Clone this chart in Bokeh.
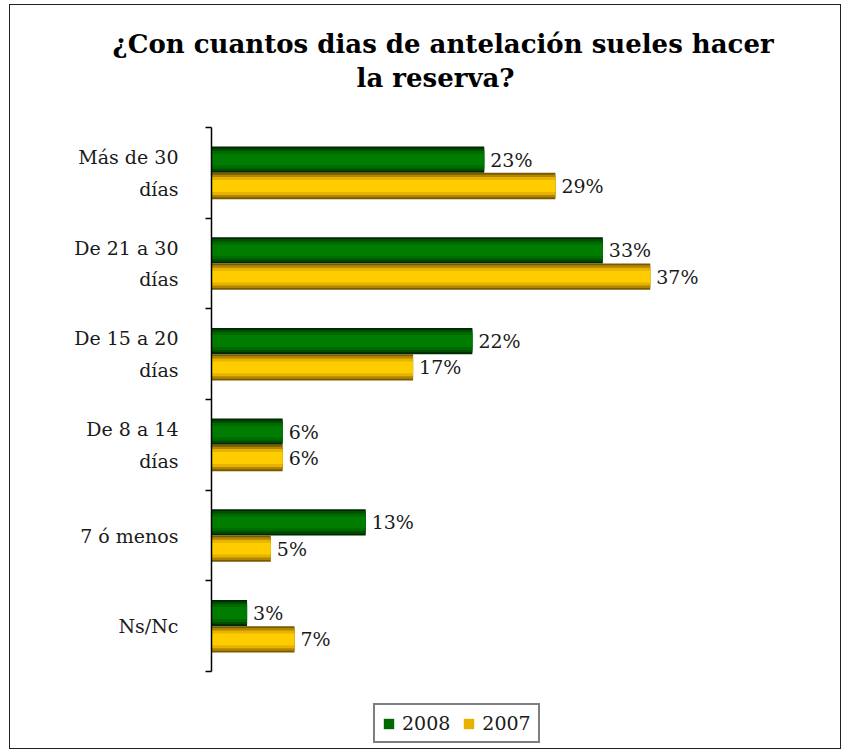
from bokeh.plotting import figure
from bokeh.models import Range1d, FixedTicker, Legend, LegendItem, Title, ColumnDataSource
from bokeh.core.properties import value
from bokeh.embed import file_html
from bokeh.resources import INLINE

categories = ["Más de 30\ndías", "De 21 a 30\ndías", "De 15 a 20\ndías", "De 8 a 14\ndías", "7 ó menos", "Ns/Nc"]
v2008 = [23, 33, 22, 6, 13, 3]
v2007 = [29, 37, 17, 6, 5, 7]
series_names = ["2008", "2007"]
title_lines = ["¿Con cuantos dias de antelación sueles hacer", "la reserva?"]

FONT = "DejaVu Serif"
n = len(categories)
centers = [n - 0.5 - i for i in range(n)]
bar_h = 0.29
y2008 = [c + bar_h / 2 for c in centers]
y2007 = [c - bar_h / 2 for c in centers]

# frame extends below/above the category area to hold the legend and title spacing
p = figure(width=832, height=745, output_backend="svg", toolbar_location=None,
           x_range=Range1d(0, 52.2), y_range=Range1d(-0.827, n + 0.375),
           min_border_left=201, min_border_right=12, min_border_top=88, min_border_bottom=4)
p.styles = {"border": "1.5px solid #222", "margin-left": "9px", "margin-top": "4px"}

src = ColumnDataSource(dict(y8=y2008, y7=y2007, v8=v2008, v7=v2007,
                            t8=[f"{v}%" for v in v2008], t7=[f"{v}%" for v in v2007]))

green_layers = [(1.0, "#002800"), (0.86, "#004e00"), (0.68, "#006a00"), (0.45, "#007c00")]
yellow_layers = [(1.0, "#7a5a00"), (0.86, "#b38600"), (0.68, "#e6b400"), (0.45, "#ffcc00")]

g_rs = []
for frac, col in green_layers:
    g_rs.append(p.hbar(y="y8", right="v8", left=0, height=bar_h * frac, source=src,
                       fill_color=col, line_color=None))
y_rs = []
for frac, col in yellow_layers:
    y_rs.append(p.hbar(y="y7", right="v7", left=0, height=bar_h * frac, source=src,
                       fill_color=col, line_color=None))

p.text(x="v8", y="y8", text="t8", source=src, x_offset=6, text_baseline="middle",
       text_font=value(FONT), text_font_size="19px", text_color="#1a1a1a")
p.text(x="v7", y="y7", text="t7", source=src, x_offset=6, text_baseline="middle",
       text_font=value(FONT), text_font_size="19px", text_color="#1a1a1a")

p.xaxis.visible = False
p.xgrid.visible = False
p.ygrid.visible = False
p.outline_line_color = None

ax = p.yaxis[0]
ax.bounds = (0, n)
ax.ticker = FixedTicker(ticks=centers, minor_ticks=list(range(n + 1)))
ax.major_label_overrides = {c: lab for c, lab in zip(centers, categories)}
ax.major_tick_out = 0
ax.major_tick_in = 0
ax.minor_tick_out = 6
ax.minor_tick_in = 0
ax.minor_tick_line_color = "#000000"
ax.minor_tick_line_width = 1.5
ax.axis_line_color = "#000000"
ax.axis_line_width = 1.5
ax.major_label_text_font = FONT
ax.major_label_text_font_size = "19px"
ax.major_label_text_line_height = 1.45
ax.major_label_text_color = "#1a1a1a"
ax.major_label_standoff = 27
ax.major_label_text_align = "right"

# later-added titles sit further from the frame
p.add_layout(Title(text=title_lines[1], align="left", offset=145, text_font=FONT,
                   text_font_size="26px", text_font_style="bold", text_color="#000000",
                   standoff=2), "above")
p.add_layout(Title(text=title_lines[0], align="left", offset=-99, text_font=FONT,
                   text_font_size="26px", text_font_style="bold", text_color="#000000",
                   standoff=2), "above")

legend = Legend(items=[LegendItem(label=series_names[0], renderers=[g_rs[-2]]),
                       LegendItem(label=series_names[1], renderers=[y_rs[-2]])],
                orientation="horizontal", location=(162, 3),
                label_text_font=FONT, label_text_font_size="19px", label_text_color="#1a1a1a",
                border_line_color="#000000", border_line_width=2,
                glyph_width=13, glyph_height=13, spacing=12, padding=7, margin=0,
                label_standoff=7, background_fill_alpha=1)
p.add_layout(legend, "center")

open("out.html", "w").write(file_html(p, INLINE))
